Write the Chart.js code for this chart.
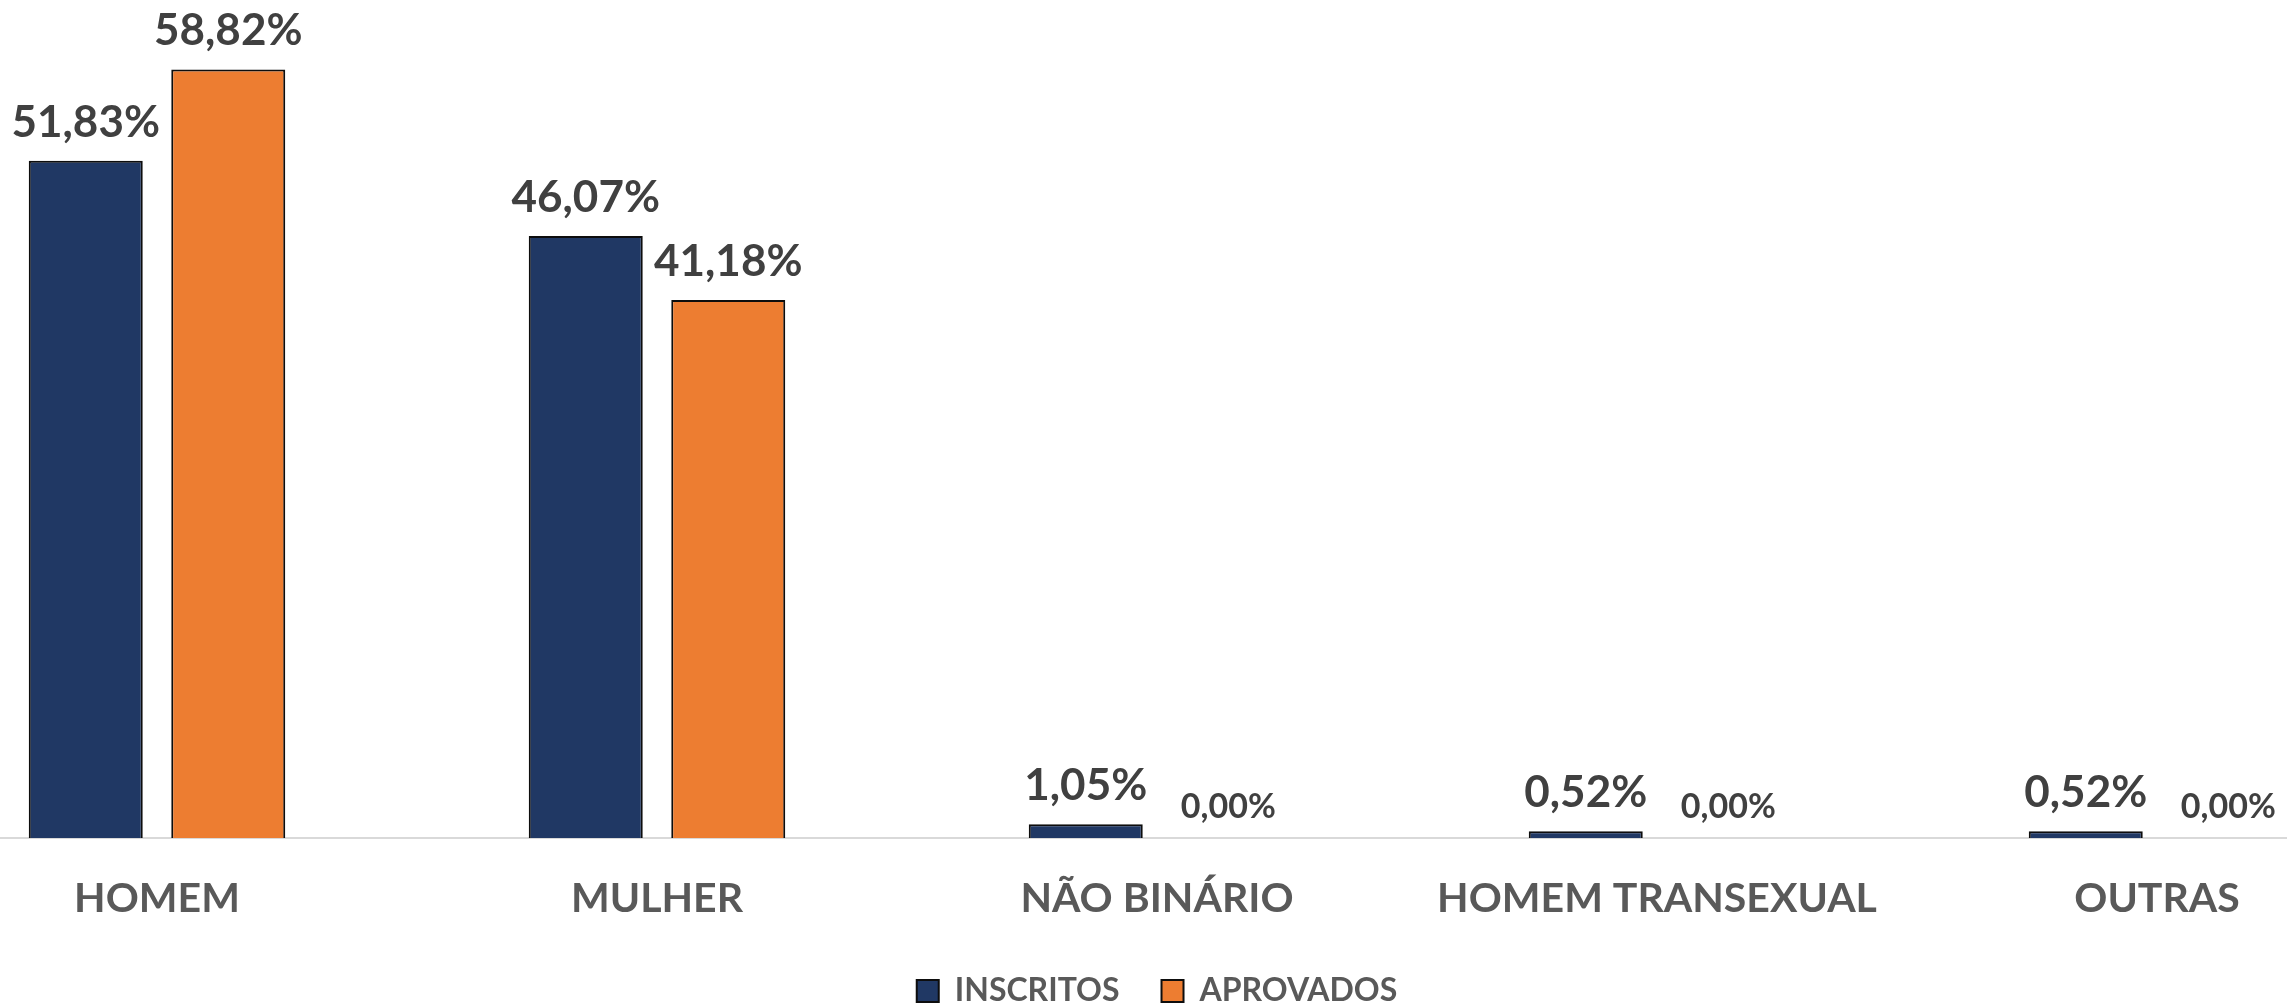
<!DOCTYPE html>
<html>
<head>
<meta charset="utf-8">
<script src="https://cdn.jsdelivr.net/npm/chart.js@4.4.1/dist/chart.umd.min.js"></script>
<style>
  html, body { margin: 0; padding: 0; background: #ffffff; overflow: hidden; width: 2287px; height: 1007px; }
  #wrap { position: absolute; left: -93px; top: 0; width: 2500px; height: 1007px; }
</style>
</head>
<body>
<div id="wrap"><canvas id="c" width="2500" height="1007"></canvas></div>
<script>
const categories = ['HOMEM', 'MULHER', 'NÃO BINÁRIO', 'HOMEM TRANSEXUAL', 'OUTRAS'];
const inscritos = [51.83, 46.07, 1.05, 0.52, 0.52];
const aprovados = [58.82, 41.18, 0.00, 0.00, 0.00];
const seriesNames = ['INSCRITOS', 'APROVADOS'];

const FONT = "Lato, 'Open Sans', sans-serif";

const valueLabels = {
  id: 'valueLabels',
  afterDatasetsDraw(chart) {
    const ctx = chart.ctx;
    ctx.save();
    ctx.textAlign = 'center';
    ctx.textBaseline = 'alphabetic';
    chart.data.datasets.forEach((ds, di) => {
      const meta = chart.getDatasetMeta(di);
      meta.data.forEach((el, i) => {
        const v = ds.data[i];
        const txt = v.toFixed(2).replace('.', ',') + '%';
        const small = v === 0;
        ctx.font = 'bold ' + (small ? 34 : 44) + 'px ' + FONT;
        ctx.fillStyle = '#404040';
        ctx.fillText(txt, el.x, el.y - (small ? 20 : 24));
      });
    });
    ctx.restore();
  }
};

new Chart(document.getElementById('c'), {
  type: 'bar',
  data: {
    labels: categories,
    datasets: [
      { label: seriesNames[0], data: inscritos, backgroundColor: '#203864', borderColor: '#0d0d0d', borderWidth: 2, borderSkipped: 'bottom' },
      { label: seriesNames[1], data: aprovados, backgroundColor: '#ED7D31', borderColor: '#0d0d0d', borderWidth: 2, borderSkipped: 'bottom' }
    ]
  },
  options: {
    responsive: false,
    animation: false,
    devicePixelRatio: 1,
    categoryPercentage: 0.57,
    barPercentage: 0.8,
    layout: { padding: { top: 54, left: 0, right: 0, bottom: -10 } },
    scales: {
      x: {
        grid: { display: false, drawTicks: true, tickLength: 27, tickColor: 'rgba(0,0,0,0)', color: 'rgba(0,0,0,0)' },
        border: { display: true, color: '#D9D9D9', width: 2 },
        ticks: { color: '#595959', font: { family: FONT, size: 41, weight: 'bold', lineHeight: '2px' }, padding: 33, maxRotation: 0, autoSkip: false }
      },
      y: { display: false, min: 0, max: 60 }
    },
    plugins: {
      legend: {
        position: 'bottom',
        labels: {
          color: '#595959',
          font: { family: FONT, size: 32, weight: 'bold' },
          boxWidth: 22, boxHeight: 22, padding: 42
        }
      },
      tooltip: { enabled: false }
    }
  },
  plugins: [valueLabels]
});
</script>
</body>
</html>
